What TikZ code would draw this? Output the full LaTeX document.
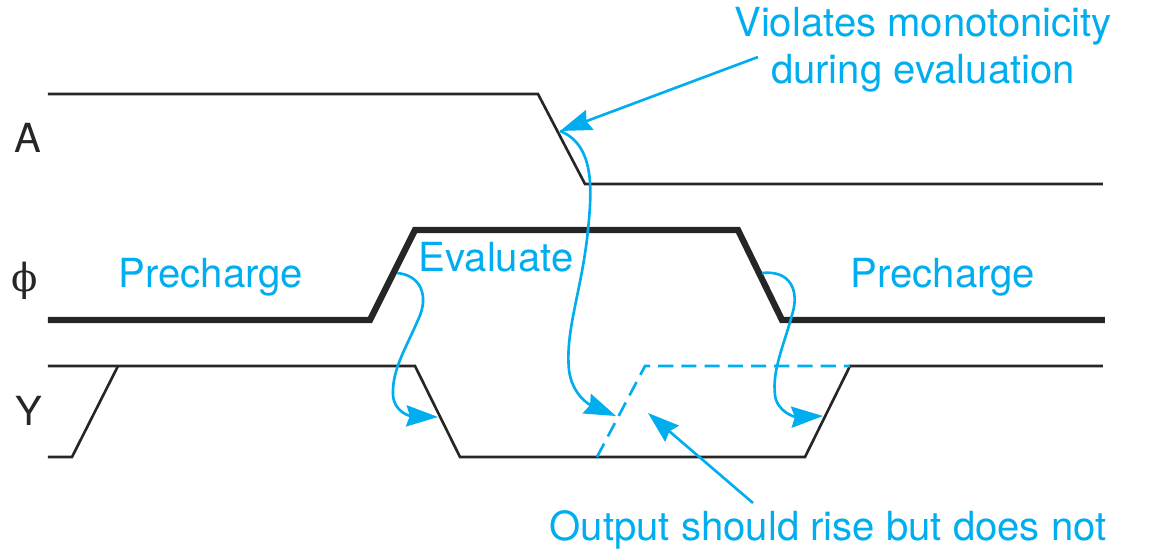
\documentclass[tikz,border=0pt]{standalone}
\usepackage{fontspec}
\setmainfont{TeX Gyre Heros}
\newfontfamily\phifont{DejaVu Serif}
\usetikzlibrary{arrows.meta, calc}
\definecolor{noteblue}{RGB}{0,174,239}
\tikzstyle{signal} = [line width=0.75pt, black!85]
\tikzstyle{clock} = [line width=1.8pt, black!85]
\tikzstyle{guess} = [noteblue, line width=0.75pt, dash pattern=on 4.3pt off 2.3pt]
\tikzstyle{pointer} = [noteblue, line width=0.75pt, -{Stealth[length=9pt,width=6pt,inset=1pt]}]
\tikzstyle{signame} = [black!85, inner sep=0pt, anchor=base west, font=\fontsize{11.4}{13.7}\selectfont]
\tikzstyle{note} = [noteblue, inner sep=0pt, font=\fontsize{11.4}{13.4}\selectfont]

\begin{document}
\begin{tikzpicture}[x=0.01cm, y=-0.01cm]
        \useasboundingbox (0,0) rectangle (1153,554);
        % signal names
        \node (nA) [signame] at (14,152) {A};
        \node (nphi) [black!85, inner sep=0pt, font=\phifont\fontsize{11}{12}\selectfont] at (25,281) {ϕ};
        \node (nY) [signame] at (15,425) {Y};

        % waveforms
        \draw [signal] (48,94) -- (538,94) -- (585,184) -- (1103,184);
        \draw [clock] (48,320) -- (370,320) -- (415,230) -- (738,230) -- (782,320) -- (1105,320);
        \draw [signal] (48,457) -- (72,457) -- (118,366);
        \draw [signal] (48,366) -- (415,366) -- (460,457) -- (805,457) -- (850,366) -- (1103,366);
        \draw [guess] (597,457) -- (645,366) -- (850,366);

        % phases and notes
        \node (pre1) [note, anchor=base west] at (118,287) {Precharge};
        \node (eval) [note, anchor=base west] at (418,271) {Evaluate};
        \node (pre2) [note, anchor=base west] at (850,287) {Precharge};
        \node (viol) [note, align=center] at (923,50) {Violates monotonicity\\during evaluation};
        \node (miss) [note, anchor=base west] at (549,540) {Output should rise but does not};

        \coordinate (violtail) at (758,57);
        \coordinate (aedge) at (560,131);
        \coordinate (risetip) at (616,416);
        \coordinate (phirise) at (397,273);
        \coordinate (yfall) at (438,417);
        \coordinate (phifall) at (762,273);
        \coordinate (yrise) at (823,416);
        \coordinate (misstail) at (753,503);
        \coordinate (misstip) at (648,413);

        \draw [pointer] (violtail) -- (aedge);
        \draw [pointer] (aedge) .. controls (595,145) and (592,190) .. (588,230) .. controls (582,290) and (565,330) .. (569,370) .. controls (572,395) and (590,405) .. (risetip);
        \draw [pointer] (phirise) .. controls (420,275) and (430,295) .. (418,320) .. controls (405,350) and (392,370) .. (393,395) .. controls (394,412) and (410,416) .. (yfall);
        \draw [pointer] (phifall) .. controls (790,270) and (800,290) .. (792,315) .. controls (784,345) and (772,370) .. (775,395) .. controls (777,412) and (795,417) .. (yrise);
        \draw [pointer] (misstail) -- (misstip);
\end{tikzpicture}
\end{document}
